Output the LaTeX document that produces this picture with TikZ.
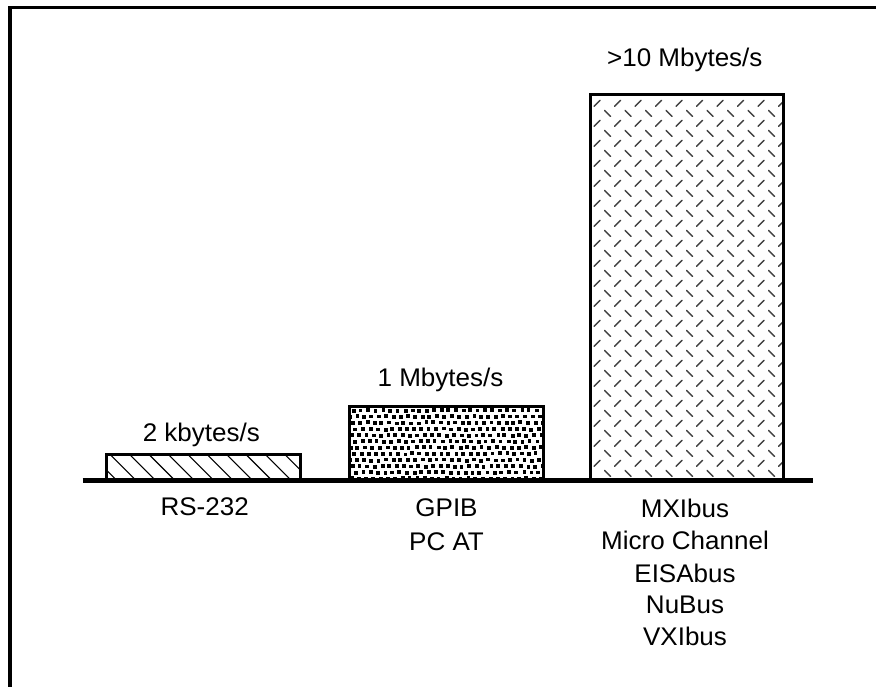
\documentclass[tikz,border=0pt]{standalone}
\usepackage{fontspec}
\setmainfont{Liberation Sans}[FakeStretch=1.02]
\begin{document}
\begin{tikzpicture}[x=1pt,y=-1pt,
  lbl/.style={font=\fontsize{25.5}{30}\selectfont, inner sep=0pt, anchor=base},
  barframe/.style={draw=black, line width=2.5pt},
  hatch/.style={draw=black, line width=1.1pt},
  dashmark/.style={draw=black!75, line width=1.4pt, line cap=round}]
\useasboundingbox (0,0) rectangle (876,687);
% frame
\draw[line width=3.5pt] (9.8,687) -- (9.8,7.7) -- (876,7.7);
% bar corners
\coordinate (b1a) at (106.7,454.3); \coordinate (b1b) at (300.7,480);
\coordinate (b2a) at (349.3,406.7); \coordinate (b2b) at (543.3,480);
\coordinate (b3a) at (590.7,94.3);  \coordinate (b3b) at (783.3,480);
% bar 1: diagonal hatching
\begin{scope}
  \clip (b1a) rectangle (b1b);
  \foreach \k in {-2,...,10} \draw[hatch] ({110+\k*19.4},454.3) -- ++(25.7,25.7);
\end{scope}
\draw[barframe] (b1a) rectangle (b1b);
% bar 2: dot pattern
\pgfmathsetseed{11}
\begin{scope}
  \clip (b2a) rectangle (b2b);
  \foreach \r in {0,...,11} {
    \foreach \c in {0,...,27} {
      \pgfmathsetmacro\xx{344+\c*7.3+mod(\r*3.1,7.3)+1.6*rnd}
      \pgfmathsetmacro\yy{408+\r*6.2+1.2*rnd}
      \fill[black] (\xx,\yy) rectangle ++(3.8,3.8);
    }
  }
\end{scope}
\draw[barframe] (b2a) rectangle (b2b);
% bar 3: alternating dashes
\begin{scope}
  \clip (b3a) rectangle (b3b);
  \foreach \j in {0,...,19} {
    \foreach \i in {0,...,9} {
      \draw[dashmark] ({597+\i*20.5-3},{103.3+\j*20+3}) -- ++(6,-6);
      \draw[dashmark] ({607.5+\i*20.5-3},{113.3+\j*20-3}) -- ++(6,6);
    }
  }
\end{scope}
\draw[barframe] (b3a) rectangle (b3b);
% axis line
\coordinate (axl) at (82.7,480.7); \coordinate (axr) at (813,480.7);
\draw[line width=5pt] (axl) -- (axr);
% value labels
\node[lbl] (v1) at (201.3,441.7) {2 kbytes/s};
\node[lbl] (v2) at (440.5,386.7) {1 Mbytes/s};
\node[lbl] (v3) at (684.8,66.7) {>10 Mbytes/s};
% bus labels
\node[lbl] (n1) at (204.7,515.5) {RS-232};
\node[lbl] (n2a) at (446.5,516.7) {GPIB};
\node[lbl] (n2b) at (446.5,550.7) {PC AT};
\node[lbl] (n3a) at (685,517.7) {MXIbus};
\node[lbl] (n3b) at (685,549.7) {Micro Channel};
\node[lbl] (n3c) at (685,582) {EISAbus};
\node[lbl] (n3d) at (685,613.7) {NuBus};
\node[lbl] (n3e) at (685,645.3) {VXIbus};
\end{tikzpicture}
\end{document}
